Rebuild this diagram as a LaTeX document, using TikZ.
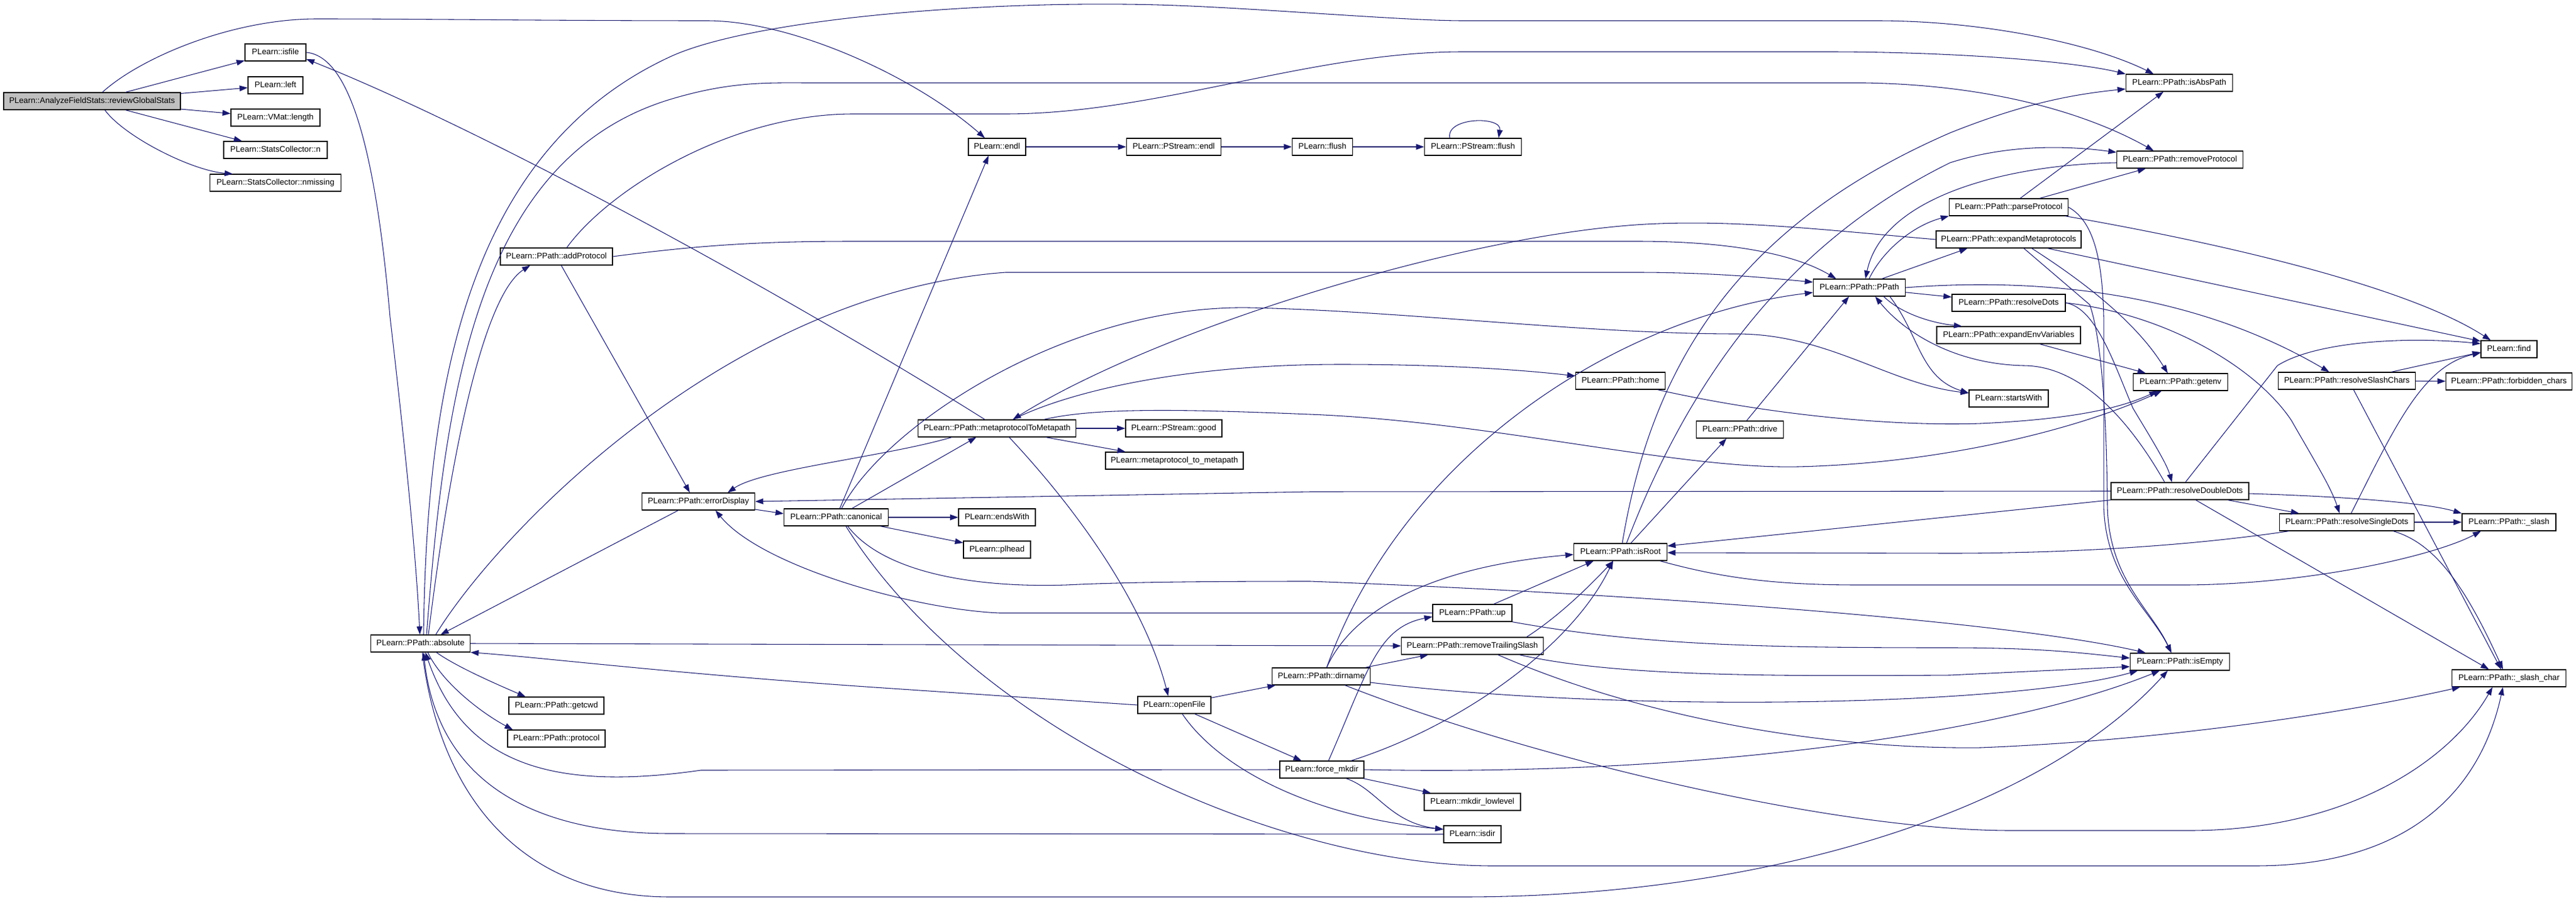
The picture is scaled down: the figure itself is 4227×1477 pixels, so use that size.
\documentclass[tikz,border=0pt]{standalone}
\usepackage{fontspec}
\setmainfont{Liberation Sans}
\usetikzlibrary{calc,arrows.meta}
\definecolor{edgeblue}{HTML}{191970}
\definecolor{rootgray}{HTML}{BFBFBF}
\tikzset{
  nbox/.style={draw=black, line width=0.9pt, fill=white, minimum height=21pt, inner sep=0pt,
    font=\fontsize{10}{12}\selectfont, text height=7.3pt, text depth=2.1pt},
  bw/.style={minimum width={#1*0.75pt}},
  rootbox/.style={fill=rootgray},
  arr/.style={draw=edgeblue, line width=0.8pt, -{Triangle[length=10pt,width=7pt]}},
}
\begin{document}
\begin{tikzpicture}[x=0.75pt,y=-0.75pt]
\useasboundingbox (0,0) rectangle (4227,1477);
\fill[white] (0,0) rectangle (4227,1477);
% ---------------- nodes
\node[nbox,rootbox,bw=290] (R) at (151,166) {PLearn::AnalyzeFieldStats::reviewGlobalStats};
\node[nbox,bw=100] (isfile) at (452,86) {PLearn::isfile};
\node[nbox,bw=90] (nleft) at (452,140) {PLearn::left};
\node[nbox,bw=146] (vlength) at (452,193) {PLearn::VMat::length};
\node[nbox,bw=170] (scn) at (452,246) {PLearn::StatsCollector::n};
\node[nbox,bw=215] (scnm) at (452,300) {PLearn::StatsCollector::nmissing};
\node[nbox,bw=163] (absolute) at (690,1056) {PLearn::PPath::absolute};
\node[nbox,bw=184] (addProtocol) at (913,421) {PLearn::PPath::addProtocol};
\node[nbox,bw=156] (getcwd) at (913,1158) {PLearn::PPath::getcwd};
\node[nbox,bw=160] (protocol) at (913,1212) {PLearn::PPath::protocol};
\node[nbox,bw=185] (errorDisplay) at (1146,823) {PLearn::PPath::errorDisplay};
\node[nbox,bw=171] (canonical) at (1372,849) {PLearn::PPath::canonical};
\node[nbox,bw=94] (endl) at (1636,241) {PLearn::endl};
\node[nbox,bw=259] (mtm) at (1636,703) {PLearn::PPath::metaprotocolToMetapath};
\node[nbox,bw=126] (endsWith) at (1636,849) {PLearn::endsWith};
\node[nbox,bw=110] (plhead) at (1636,902) {PLearn::plhead};
\node[nbox,bw=155] (psendl) at (1926,241) {PLearn::PStream::endl};
\node[nbox,bw=158] (psgood) at (1926,703) {PLearn::PStream::good};
\node[nbox,bw=226] (m2m) at (1927,756) {PLearn::metaprotocol\_to\_metapath};
\node[nbox,bw=120] (openFile) at (1927,1157) {PLearn::openFile};
\node[nbox,bw=99] (flush) at (2170,241) {PLearn::flush};
\node[nbox,bw=161] (dirname) at (2168,1110) {PLearn::PPath::dirname};
\node[nbox,bw=138] (fmkdir) at (2169,1263) {PLearn::force\_mkdir};
\node[nbox,bw=159] (psflush) at (2417,241) {PLearn::PStream::flush};
\node[nbox,bw=130] (nup) at (2416,1006) {PLearn::PPath::up};
\node[nbox,bw=233] (rts) at (2416,1060) {PLearn::PPath::removeTrailingSlash};
\node[nbox,bw=158] (mkdirll) at (2416,1316) {PLearn::mkdir\_lowlevel};
\node[nbox,bw=94] (isdir) at (2416,1369) {PLearn::isdir};
\node[nbox,bw=147] (home) at (2659,625) {PLearn::PPath::home};
\node[nbox,bw=153] (isRoot) at (2659,906) {PLearn::PPath::isRoot};
\node[nbox,bw=143] (drive) at (2855,705) {PLearn::PPath::drive};
\node[nbox,bw=151] (PPath) at (3051,472) {PLearn::PPath::PPath};
\node[nbox,bw=195] (parseProtocol) at (3296,340) {PLearn::PPath::parseProtocol};
\node[nbox,bw=238] (expMeta) at (3296,393) {PLearn::PPath::expandMetaprotocols};
\node[nbox,bw=186] (resolveDots) at (3296,497) {PLearn::PPath::resolveDots};
\node[nbox,bw=236] (expEnv) at (3296,550) {PLearn::PPath::expandEnvVariables};
\node[nbox,bw=130] (startsWith) at (3296,654) {PLearn::startsWith};
\node[nbox,bw=175] (isAbsPath) at (3576,136) {PLearn::PPath::isAbsPath};
\node[nbox,bw=207] (removeProtocol) at (3577,262) {PLearn::PPath::removeProtocol};
\node[nbox,bw=155] (getenv) at (3578,627) {PLearn::PPath::getenv};
\node[nbox,bw=226] (rdd) at (3577,806) {PLearn::PPath::resolveDoubleDots};
\node[nbox,bw=163] (isEmpty) at (3577,1086) {PLearn::PPath::isEmpty};
\node[nbox,bw=225] (rsc) at (3851,625) {PLearn::PPath::resolveSlashChars};
\node[nbox,bw=221] (rsd) at (3851,857) {PLearn::PPath::resolveSingleDots};
\node[nbox,bw=92] (find) at (4117,573) {PLearn::find};
\node[nbox,bw=207] (forbidden) at (4117,626) {PLearn::PPath::forbidden\_chars};
\node[nbox,bw=154] (slash) at (4117,857) {PLearn::PPath::\_slash};
\node[nbox,bw=187] (slashchar) at (4117,1113) {PLearn::PPath::\_slash\_char};
% ---------------- edges
% root
\draw[arr] (R) -- (isfile);
\draw[arr] (R) -- (nleft);
\draw[arr] (R) -- (vlength);
\draw[arr] (R) -- (scn);
\draw[arr] ($(R.south)+(21,0)$) .. controls (205,225) and (315,280) .. ($(scnm.north west)+(38,0)$);
\draw[arr] ($(R.north)+(17,0)$) .. controls (230,95) and (380,31) .. (520,31) .. controls (700,31) and (900,34) .. (1160,34) .. controls (1300,34) and (1500,125) .. ($(endl.north)+(-20,0)$);
% isfile -> absolute
\draw[arr] (isfile.east) .. controls (570,92) and (615,230) .. (640,520) .. controls (662,710) and (682,900) .. ($(absolute.north)+(-1,0)$);
% absolute
\draw[arr] ($(absolute.north)+(5,0)$) .. controls (700,650) and (760,250) .. (1100,93) .. controls (1230,33) and (1600,0) .. (1900,8) .. controls (2050,12) and (2300,34) .. (2400,34) -- (3080,34) .. controls (3250,34) and (3430,70) .. ($(isAbsPath.north)+(-42,0)$);
\draw[arr] ($(absolute.north)+(10,0)$) .. controls (730,650) and (780,260) .. (1100,163) .. controls (1200,133) and (1260,136) .. (1330,136) -- (3060,136) .. controls (3300,140) and (3450,200) .. ($(removeProtocol.north)+(-43,0)$);
\draw[arr] ($(absolute.north)+(13,0)$) .. controls (745,700) and (800,480) .. ($(addProtocol.south)+(-43,0)$);
\draw[arr] ($(absolute.north)+(25,0)$) .. controls (820,870) and (1200,480) .. (1650,447) -- (2686,447) .. controls (2820,447) and (2920,458) .. ($(PPath.west)+(0,-9)$);
\draw[arr] ($(errorDisplay.south west)+(60,0)$) -- ($(absolute.north)+(33,0)$);
\draw[arr] ($(absolute.south)+(26,0)$) .. controls (750,1095) and (820,1125) .. ($(getcwd.north west)+(28,0)$);
\draw[arr] ($(absolute.south)+(12,0)$) .. controls (725,1120) and (790,1170) .. ($(protocol.north west)+(9,0)$);
\draw[arr] (fmkdir.west) -- (1150,1264) .. controls (900,1300) and (760,1250) .. ($(absolute.south)+(8,0)$);
\draw[arr] (isdir.west) -- (1100,1368) .. controls (900,1368) and (720,1300) .. ($(absolute.south)+(5,0)$);
\draw[arr] (openFile.west) -- (1435,1128) .. controls (1100,1105) and (900,1080) .. (absolute.south east);
\draw[arr] (absolute.east) -- (rts.west);
\draw[arr] ($(absolute.south)+(3,0)$) .. controls (720,1300) and (850,1472) .. (1100,1472) -- (2400,1472) .. controls (2900,1472) and (3350,1330) .. ($(isEmpty.south)+(-20,0)$);
% addProtocol
\draw[arr] ($(addProtocol.north)+(17,0)$) .. controls (1000,310) and (1200,187) .. (1400,187) -- (1650,187) .. controls (1900,187) and (2150,85) .. (2400,85) -- (3000,85) .. controls (3200,85) and (3400,100) .. (isAbsPath.north west);
\draw[arr] (addProtocol.east) .. controls (1150,402) and (1250,396) .. (1400,396) -- (2686,396) .. controls (2850,396) and (2950,420) .. ($(PPath.north west)+(38,0)$);
\draw[arr] ($(addProtocol.south)+(8,0)$) -- ($(errorDisplay.north west)+(79,0)$);
% metaprotocolToMetapath
\draw[arr] ($(mtm.north)+(-20,0)$) .. controls (1300,490) and (800,215) .. ($(isfile.east)+(0,11)$);
\draw[arr] ($(mtm.south west)+(56,0)$) .. controls (1450,750) and (1250,770) .. ($(errorDisplay.north)+(48,0)$);
\draw[arr] (mtm) -- (psgood);
\draw[arr] (mtm) -- (m2m);
\draw[arr] ($(mtm.north)+(26,0)$) .. controls (1760,640) and (1950,598) .. (2200,598) .. controls (2350,598) and (2480,605) .. ($(home.west)+(0,-8)$);
\draw[arr] ($(mtm.north)+(77,0)$) .. controls (1800,668) and (1950,672) .. (2150,680) .. controls (2450,692) and (2750,770) .. (2950,766) .. controls (3200,760) and (3420,700) .. ($(getenv.south)+(-31,0)$);
\draw[arr] ($(mtm.south)+(20,0)$) .. controls (1780,850) and (1880,1000) .. ($(openFile.north)+(-10,0)$);
% canonical / errorDisplay
\draw[arr] ($(canonical.north)+(26,0)$) -- ($(mtm.south)+(-34,0)$);
\draw[arr] ($(errorDisplay.east)+(0,13)$) -- ($(canonical.west)+(0,-6)$);
\draw[arr] (canonical) -- (endsWith);
\draw[arr] (canonical) -- (plhead);
\draw[arr] ($(canonical.north)+(6,0)$) -- ($(endl.south)+(-14,0)$);
\draw[arr] ($(canonical.north)+(9,0)$) .. controls (1450,700) and (1750,500) .. (2050,505) .. controls (2300,510) and (2600,548) .. (2850,548) .. controls (3000,548) and (3100,630) .. ($(startsWith.west)+(0,-9)$);
\draw[arr] ($(canonical.south)+(19,0)$) .. controls (1450,940) and (1600,965) .. (1750,960) .. controls (1850,955) and (2000,954) .. (2150,954) .. controls (2700,975) and (3300,1020) .. ($(isEmpty.north west)+(26,0)$);
\draw[arr] ($(canonical.south)+(16,0)$) .. controls (1600,1200) and (2100,1421) .. (2450,1421) -- (3700,1421) .. controls (3950,1421) and (4070,1300) .. ($(slashchar.south)+(-10,0)$);
\draw[arr] (nup.west) -- (1640,1006) .. controls (1500,1000) and (1250,930) .. ($(errorDisplay.south)+(28,0)$);
\draw[arr] (rdd.west) -- (2150,807) -- (errorDisplay.east);
\draw[arr] (expMeta.west) .. controls (3000,378) and (2850,360) .. (2700,368) .. controls (2400,385) and (1900,540) .. ($(mtm.north)+(26,0)$);
% openFile
\draw[arr] (openFile) -- (dirname);
\draw[arr] (openFile) -- (fmkdir);
\draw[arr] ($(openFile.south)+(13,0)$) .. controls (2000,1260) and (2150,1340) .. ($(isdir.west)+(0,-8)$);
% force_mkdir
\draw[arr] ($(fmkdir.south)+(40,0)$) .. controls (2260,1295) and (2280,1350) .. ($(isdir.west)+(0,-8)$);
\draw[arr] (fmkdir) -- (mkdirll);
\draw[arr] ($(fmkdir.north)+(11,0)$) .. controls (2245,1100) and (2260,1030) .. ($(nup.west)+(0,6)$);
\draw[arr] ($(fmkdir.north)+(48,0)$) .. controls (2400,1190) and (2580,1060) .. ($(isRoot.south)+(-12,0)$);
\draw[arr] (fmkdir.east) .. controls (2800,1275) and (3300,1200) .. ($(isEmpty.south)+(-33,0)$);
% dirname
\draw[arr] (dirname) -- (rts);
\draw[arr] ($(dirname.north)+(9,0)$) .. controls (2220,1000) and (2350,930) .. ($(isRoot.west)+(0,4)$);
\draw[arr] ($(dirname.north)+(9,0)$) .. controls (2300,750) and (2650,520) .. ($(PPath.west)+(0,8)$);
\draw[arr] ($(dirname.east)+(0,10)$) .. controls (2650,1170) and (3300,1160) .. ($(isEmpty.south)+(-69,0)$);
\draw[arr] ($(dirname.south)+(39,0)$) .. controls (2500,1240) and (3000,1363) .. (3300,1363) -- (3593,1363) .. controls (3850,1363) and (4020,1250) .. ($(slashchar.south)+(-27,0)$);
% up
\draw[arr] ($(nup.north)+(35,0)$) -- ($(isRoot.south)+(-44,0)$);
\draw[arr] (nup.south east) .. controls (2700,1060) and (2900,1063) .. (3200,1063) .. controls (3350,1063) and (3420,1072) .. ($(isEmpty.west)+(0,-6)$);
% removeTrailingSlash
\draw[arr] ($(rts.north)+(89,0)$) .. controls (2560,1010) and (2610,960) .. ($(isRoot.south)+(-12,0)$);
\draw[arr] ($(rts.south east)+(-40,0)$) .. controls (2650,1110) and (2900,1110) .. (3200,1108) -- ($(isEmpty.west)+(0,8)$);
\draw[arr] ($(rts.south)+(42,0)$) .. controls (2700,1180) and (3000,1230) .. (3250,1227) .. controls (3550,1215) and (3850,1170) .. ($(slashchar.south west)+(14,0)$);
% isRoot
\draw[arr] ($(isRoot.north)+(17,0)$) -- ($(drive.south)+(-22,0)$);
\draw[arr] ($(isRoot.north)+(3,0)$) .. controls (2710,600) and (2850,370) .. (3200,218) .. controls (3320,170) and (3400,155) .. ($(isAbsPath.west)+(0,10)$);
\draw[arr] ($(isRoot.north)+(10,0)$) .. controls (2780,600) and (2950,390) .. (3200,267) .. controls (3300,235) and (3400,240) .. ($(removeProtocol.west)+(0,-12)$);
\draw[arr] ($(isRoot.south east)+(-12,0)$) .. controls (2830,950) and (2920,960) .. (3050,960) -- (3590,960) .. controls (3800,958) and (4000,910) .. ($(slash.south)+(-46,0)$);
% removeProtocol, drive
\draw[arr] ($(removeProtocol.west)+(0,5)$) .. controls (3300,270) and (3090,320) .. ($(PPath.north)+(10,0)$);
\draw[arr] ($(drive.north)+(11,0)$) -- ($(PPath.south)+(-17,0)$);
% PPath
\draw[arr] ($(PPath.north)+(16,0)$) .. controls (3090,410) and (3140,370) .. (parseProtocol.south west);
\draw[arr] ($(PPath.north east)+(-39,0)$) -- ($(expMeta.south west)+(52,0)$);
\draw[arr] (PPath) -- (resolveDots);
\draw[arr] (PPath.east) .. controls (3350,455) and (3600,480) .. ($(rsc.north)+(-29,0)$);
\draw[arr] ($(PPath.south)+(40,0)$) .. controls (3120,515) and (3170,530) .. ($(expEnv.north west)+(42,0)$);
\draw[arr] ($(PPath.south)+(50,0)$) .. controls (3150,550) and (3150,620) .. ($(startsWith.west)+(0,-9)$);
\draw[arr] ($(rdd.north)+(-25,0)$) .. controls (3500,700) and (3420,600) .. (3320,600) .. controls (3200,597) and (3120,540) .. ($(PPath.south)+(26,0)$);
% resolveDots
\draw[arr] (resolveDots.east) .. controls (3440,505) and (3470,600) .. (3500,670) .. controls (3530,720) and (3555,760) .. ($(rdd.north)+(-13,0)$);
\draw[arr] (resolveDots.east) .. controls (3550,515) and (3700,600) .. (3760,690) .. controls (3800,760) and (3825,800) .. ($(rsd.north)+(-12,0)$);
% resolveDoubleDots
\draw[arr] (rdd) -- (rsd);
\draw[arr] ($(rdd.north)+(9,0)$) -- (3737,600) .. controls (3800,560) and (3950,552) .. ($(find.west)+(0,-9)$);
\draw[arr] ($(rdd.east)+(0,4)$) .. controls (3850,815) and (3980,825) .. (slash.north west);
\draw[arr] (rdd.south west) -- ($(isRoot.east)+(0,-10)$);
\draw[arr] ($(rdd.south)+(26,0)$) -- ($(slashchar.north)+(-33,0)$);
% resolveSingleDots
\draw[arr] ($(rsd.north)+(7,0)$) .. controls (3930,700) and (3975,600) .. ($(find.west)+(0,6)$);
\draw[arr] (rsd) -- (slash);
\draw[arr] ($(rsd.south west)+(16,0)$) .. controls (3600,895) and (3400,908) .. (3200,908) -- ($(isRoot.east)+(0,1)$);
\draw[arr] ($(rsd.south)+(76,0)$) .. controls (3990,890) and (4040,950) .. ($(slashchar.north)+(-10,0)$);
% resolveSlashChars
\draw[arr] ($(rsc.north)+(73,0)$) -- ($(find.west)+(0,5)$);
\draw[arr] (rsc) -- (forbidden);
\draw[arr] ($(rsc.south)+(11,0)$) -- ($(slashchar.north)+(-13,0)$);
% home, env, meta
\draw[arr] ($(home.south east)+(-13,0)$) .. controls (2900,680) and (3100,700) .. (3250,695) .. controls (3400,688) and (3480,670) .. ($(getenv.south)+(-38,0)$);
\draw[arr] ($(expEnv.south)+(51,0)$) -- ($(getenv.north west)+(21,0)$);
\draw[arr] ($(expMeta.south)+(38,0)$) .. controls (3400,450) and (3500,520) .. ($(getenv.north)+(-21,0)$);
\draw[arr] ($(expMeta.south)+(64,0)$) -- ($(find.west)+(0,-13)$);
\draw[arr] ($(expMeta.south)+(25,0)$) -- (3429,500) .. controls (3450,560) and (3457,700) .. (3458,830) .. controls (3460,950) and (3530,1000) .. ($(isEmpty.north)+(-14,0)$);
% parseProtocol
\draw[arr] (parseProtocol.east) .. controls (3440,365) and (3450,440) .. (3452,520) -- (3452,830) .. controls (3455,950) and (3528,1000) .. ($(isEmpty.north)+(-14,0)$);
\draw[arr] ($(parseProtocol.north)+(19,0)$) -- ($(isAbsPath.south)+(-26,0)$);
\draw[arr] ($(parseProtocol.north)+(51,0)$) -- ($(removeProtocol.south)+(-56,0)$);
\draw[arr] ($(parseProtocol.south east)+(-5,0)$) .. controls (3650,400) and (3950,470) .. ($(find.north)+(-30,0)$);
% stream chain
\draw[arr] (endl) -- (psendl);
\draw[arr] (psendl) -- (flush);
\draw[arr] (flush) -- (psflush);
\draw[arr] ($(psflush.north)+(-38,0)$) .. controls (2372,192) and (2465,190) .. ($(psflush.north)+(42,0)$);
\end{tikzpicture}
\end{document}
